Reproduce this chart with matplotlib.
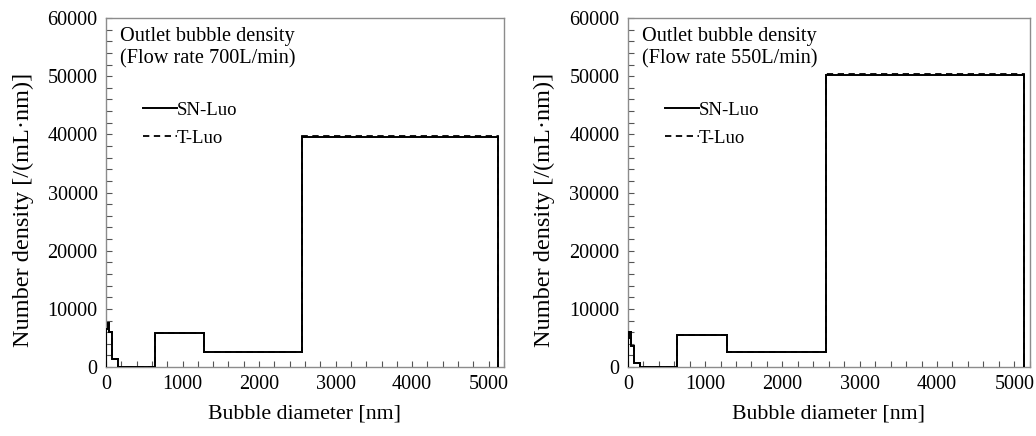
import matplotlib
matplotlib.use("Agg")
import matplotlib.pyplot as plt
from matplotlib.ticker import MultipleLocator

plt.rcParams["font.family"] = ["Liberation Serif", "DejaVu Serif"]

# bin edges of the bubble size classes [nm]
edges = [0, 20, 40, 80, 160, 320, 640, 1280, 2560, 5120]

# flow rate 700 L/min
sn_700 = [6500, 7600, 6000, 1400, 100, 30, 5800, 2600, 39600]
t_700 = [6500, 7600, 6000, 1400, 100, 30, 5800, 2600, 39800]

# flow rate 550 L/min
sn_550 = [5000, 6000, 3600, 700, 100, 30, 5600, 2600, 50200]
t_550 = [5000, 6000, 3600, 700, 100, 30, 5600, 2600, 50450]

panels = [
    ("Outlet bubble density\n(Flow rate 700L/min)", sn_700, t_700),
    ("Outlet bubble density\n(Flow rate 550L/min)", sn_550, t_550),
]

fig = plt.figure(figsize=(10.36, 4.36), dpi=100)
boxes = [[0.1023, 0.158, 0.3842, 0.8007], [0.606, 0.158, 0.388, 0.8007]]

for box, (title, sn, t) in zip(boxes, panels):
    ax = fig.add_axes(box)
    ax.stairs(t, edges, color="black", lw=1.3, ls=(0, (3.5, 2.5)), label="T-Luo", zorder=2)
    ax.stairs(sn, edges, color="black", lw=1.4, label="SN-Luo", zorder=3)

    ax.set_xlim(0, 5200)
    ax.set_ylim(0, 60000)
    ax.xaxis.set_major_locator(MultipleLocator(1000))
    ax.xaxis.set_minor_locator(MultipleLocator(200))
    ax.yaxis.set_major_locator(MultipleLocator(10000))
    ax.yaxis.set_minor_locator(MultipleLocator(2000))
    ax.tick_params(which="both", direction="in", length=4, width=0.8, color="#555555",
                   labelsize=14.5, pad=6)
    for s in ax.spines.values():
        s.set_color("#8c8c8c")
        s.set_linewidth(1.0)

    ax.set_xlabel("Bubble diameter [nm]", fontsize=15.7, labelpad=7)
    ax.set_ylabel("Number density [/(mL·nm)]", fontsize=17.5)
    ax.yaxis.set_label_coords(-0.18, 0.45)

    ax.text(0.035, 0.975, title, transform=ax.transAxes, ha="left", va="top",
            fontsize=14.6, linespacing=1.25)

    handles, labels = ax.get_legend_handles_labels()
    ax.legend(handles[::-1], labels[::-1], frameon=False, loc="upper left",
              bbox_to_anchor=(0.093, 0.76), borderaxespad=0, borderpad=0,
              fontsize=13.5, handlelength=1.8, handletextpad=0.0, labelspacing=0.57)

fig.savefig("out.png", dpi=100)
